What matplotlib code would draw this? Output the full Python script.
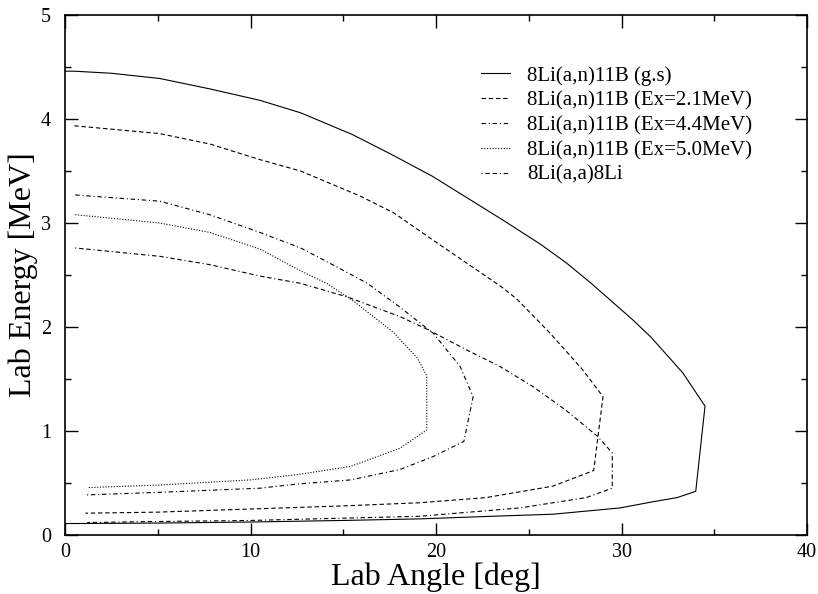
import numpy as np
import matplotlib
matplotlib.use("Agg")
import matplotlib.pyplot as plt
from matplotlib.ticker import MultipleLocator

plt.rcParams['font.family'] = ['Liberation Serif', 'DejaVu Serif']

# DATA
gs_x = [0.0, 0.5, 2.5, 5.1, 7.8, 10.5, 12.7, 15.5, 17.7, 19.8, 23.5, 25.6, 27.0, 28.3, 30.6, 31.6, 33.3, 34.5,
        34.0, 33.0, 31.7, 29.9, 26.3, 23.0, 19.1, 15.0, 10.0, 5.0, 0.0]
gs_y = [4.46, 4.46, 4.44, 4.39, 4.29, 4.18, 4.06, 3.85, 3.65, 3.45, 3.04, 2.80, 2.62, 2.43, 2.07, 1.90, 1.56, 1.24,
        0.42, 0.36, 0.32, 0.26, 0.20, 0.18, 0.155, 0.14, 0.125, 0.115, 0.11]

ex21_x = [0.5, 5.1, 7.8, 10.5, 12.7, 15.9, 17.7, 19.8, 23.5, 24.35, 26.1, 27.9, 29.0,
          28.5, 26.3, 22.7, 19.1, 15.0, 10.0, 5.0, 1.1]
ex21_y = [3.935, 3.86, 3.76, 3.61, 3.50, 3.26, 3.10, 2.84, 2.39, 2.27, 1.95, 1.59, 1.33,
          0.62, 0.47, 0.36, 0.31, 0.28, 0.25, 0.22, 0.21]

ex44_x = [0.55, 5.1, 7.8, 10.5, 12.7, 14.1, 16.3, 18.06, 19.85, 21.3, 22.0,
          21.5, 19.85, 18.06, 15.4, 12.5, 10.5, 5.0, 1.1]
ex44_y = [3.27, 3.21, 3.08, 2.91, 2.76, 2.63, 2.42, 2.19, 1.94, 1.62, 1.33,
          0.90, 0.755, 0.63, 0.53, 0.49, 0.45, 0.41, 0.385]

ex50_x = [0.55, 5.1, 7.8, 10.5, 12.7, 14.1, 15.4, 17.7, 18.06, 19.0, 19.5,
          19.5, 18.06, 15.4, 12.5, 10.0, 5.0, 1.2]
ex50_y = [3.08, 3.00, 2.91, 2.75, 2.54, 2.42, 2.27, 1.95, 1.88, 1.70, 1.53,
          1.01, 0.835, 0.66, 0.58, 0.53, 0.48, 0.456]

aa_x = [0.55, 5.1, 7.8, 10.5, 12.7, 15.2, 18.06, 19.5, 21.65, 23.45, 25.2, 27.0, 28.7, 29.5,
        29.5, 28.1, 24.5, 19.1, 10.0, 5.0, 1.2]
aa_y = [2.76, 2.68, 2.60, 2.49, 2.42, 2.29, 2.10, 1.98, 1.78, 1.62, 1.43, 1.20, 0.95, 0.79,
        0.45, 0.36, 0.26, 0.18, 0.14, 0.13, 0.12]

labels = ["8Li(a,n)11B (g.s)", "8Li(a,n)11B (Ex=2.1MeV)", "8Li(a,n)11B (Ex=4.4MeV)",
          "8Li(a,n)11B (Ex=5.0MeV)", "8Li(a,a)8Li"]

fig = plt.figure(figsize=(8.18, 5.94), dpi=100)
ax = fig.add_axes([0.0795, 0.0993, 0.9071, 0.8754])

lw = 0.8
ax.plot(gs_x, gs_y, color="k", lw=lw, ls="-", label=labels[0])
ax.plot(ex21_x, ex21_y, color="k", lw=lw, ls=(0, (4, 2.5)), label=labels[1])
ax.plot(ex44_x, ex44_y, color="k", lw=lw, ls=(0, (4, 2.5, 1, 2.5)), label=labels[2])
ax.plot(ex50_x, ex50_y, color="k", lw=lw, ls=(0, (1, 1.5)), label=labels[3])
ax.plot(aa_x, aa_y, color="k", lw=lw, ls=(0, (1, 2.5, 4, 2.5, 4, 2.5)), label=labels[4])

ax.set_xlim(0, 40)
ax.set_ylim(0, 5)
ax.xaxis.set_major_locator(MultipleLocator(10))
ax.xaxis.set_minor_locator(MultipleLocator(5))
ax.yaxis.set_major_locator(MultipleLocator(1))
ax.yaxis.set_minor_locator(MultipleLocator(0.5))
ax.tick_params(which="both", direction="in", top=True, right=True, labelsize=14.5, width=1)
ax.tick_params(which="major", length=9)
ax.tick_params(which="minor", length=4.5)
ax.tick_params(axis="x", pad=6)
ax.tick_params(axis="y", pad=10)
for s in ax.spines.values():
    s.set_linewidth(1.2)

ax.set_xlabel("Lab Angle [deg]", fontsize=23, labelpad=0)
ax.set_ylabel("Lab Energy [MeV]", fontsize=23, labelpad=2)

ax.legend(loc="upper left", bbox_to_anchor=(0.5606, 0.902), frameon=False, fontsize=15,
          handlelength=1.4, labelspacing=0.25, handletextpad=0.8, borderpad=0, borderaxespad=0)

fig.savefig("out.png", dpi=100)
